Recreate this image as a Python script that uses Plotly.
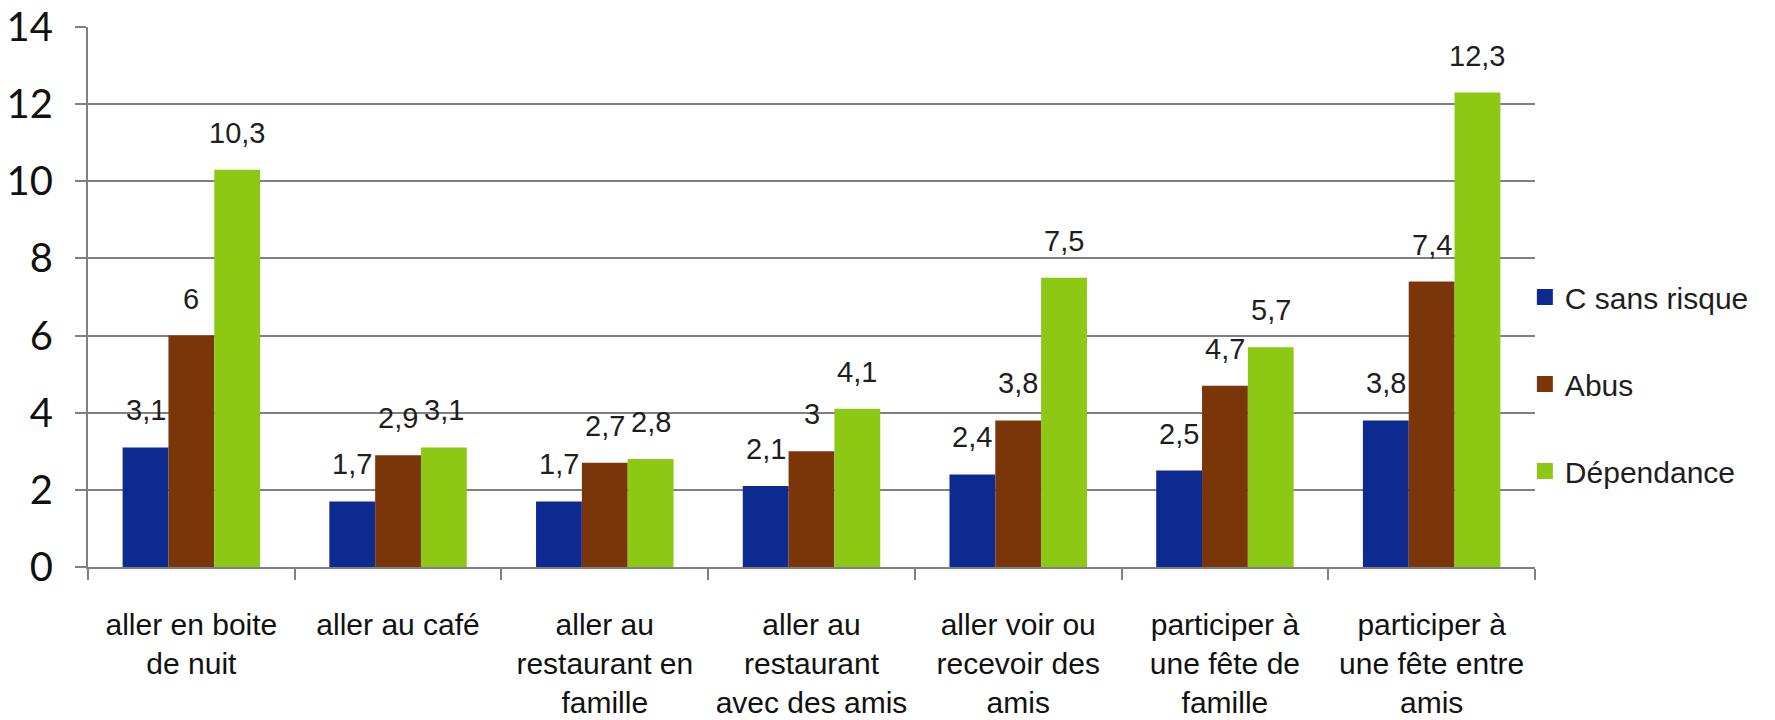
import plotly.graph_objects as go

categories = [
    "aller en boite<br>de nuit",
    "aller au café",
    "aller au<br>restaurant en<br>famille",
    "aller au<br>restaurant<br>avec des amis",
    "aller voir ou<br>recevoir des<br>amis",
    "participer à<br>une fête de<br>famille",
    "participer à<br>une fête entre<br>amis",
]
series_names = ["C sans risque", "Abus", "Dépendance"]
sans_risque = [3.1, 1.7, 1.7, 2.1, 2.4, 2.5, 3.8]
abus = [6, 2.9, 2.7, 3, 3.8, 4.7, 7.4]
dependance = [10.3, 3.1, 2.8, 4.1, 7.5, 5.7, 12.3]
y_ticks = [0, 2, 4, 6, 8, 10, 12, 14]

colors = ["#0c2a90", "#7a3608", "#8cc814"]
all_values = [sans_risque, abus, dependance]

W, H = 1775, 720
margin = dict(l=88, r=240, t=27, b=153, autoexpand=False)
bargap = 0.335

fig = go.Figure()
for name, vals, col in zip(series_names, all_values, colors):
    fig.add_trace(go.Bar(
        x=categories, y=vals, name=name, marker_color=col,
        marker_line_width=0, showlegend=False,
    ))
    # legend entry with a larger square swatch
    fig.add_trace(go.Scatter(
        x=[None], y=[None], mode="markers", name=name,
        marker=dict(symbol="square", size=19, color=col),
        legendgroup=name, showlegend=True,
    ))

# value labels above each bar
plot_w = W - margin["l"] - margin["r"]
cat_w = plot_w / len(categories)
bar_w = cat_w * (1 - bargap) / len(series_names)


def fmt(v):
    s = f"{v:g}"
    return s.replace(".", ",")


for si, vals in enumerate(all_values):
    for cat, v in zip(categories, vals):
        fig.add_annotation(
            x=cat, y=v, xref="x", yref="y", text=fmt(v), showarrow=False,
            xshift=(si - 1) * bar_w, yshift=37, yanchor="middle",
            font=dict(family="Liberation Sans, Arial", size=29, color="#1e1e1e"),
        )

fig.update_layout(
    width=W, height=H, margin=margin,
    paper_bgcolor="white", plot_bgcolor="white",
    barmode="group", bargap=bargap, bargroupgap=0,
    legend=dict(
        x=0.993, xanchor="left", y=0.548, yanchor="top",
        font=dict(family="Liberation Sans, Arial", size=30, color="#1e1e1e"),
        traceorder="grouped", tracegroupgap=45, itemwidth=30,
        bgcolor="rgba(0,0,0,0)",
    ),
)
fig.update_yaxes(
    range=[0, 14], tickvals=y_ticks, showgrid=True, gridcolor="#808080", gridwidth=2,
    showline=True, linecolor="#808080", linewidth=2,
    ticks="outside", ticklen=11, tickcolor="#808080", tickwidth=2,
    ticklabelstandoff=14, zeroline=False, automargin=False,
    tickfont=dict(family="Lato", size=40, color="#111111"),
)
fig.update_xaxes(
    showline=True, linecolor="#808080", linewidth=2,
    ticks="outside", ticklen=11, tickcolor="#808080", tickwidth=2,
    tickson="boundaries", ticklabelstandoff=30, automargin=False, tickangle=0,
    tickfont=dict(family="Liberation Sans, Arial", size=30, color="#111111"),
)

fig.write_html("out.html")
